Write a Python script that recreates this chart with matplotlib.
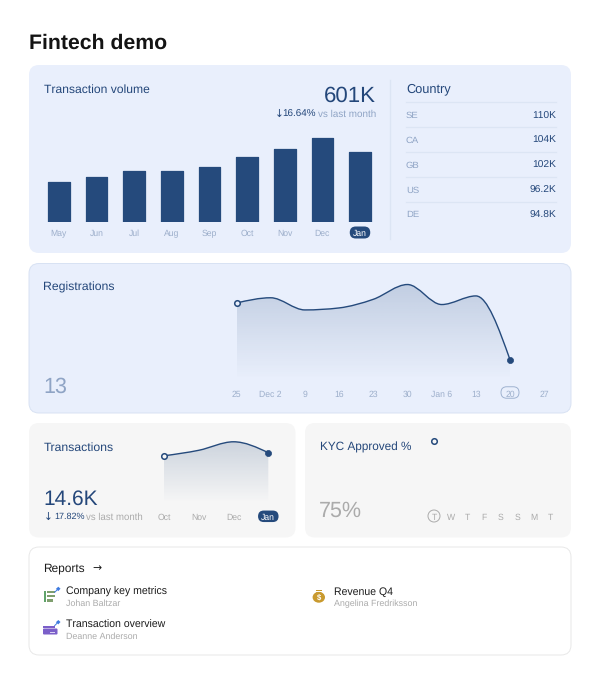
import numpy as np
import matplotlib
matplotlib.use("Agg")
import matplotlib.pyplot as plt
from matplotlib.patches import FancyBboxPatch, Circle, Ellipse, Polygon, Rectangle, PathPatch
from matplotlib.path import Path

plt.rcParams['font.family'] = ['Liberation Sans', 'DejaVu Sans']
plt.rcParams['text.hinting'] = 'no_hinting'
plt.rcParams['text.kerning_factor'] = 6

# ---------- data ----------
months = ['May', 'Jun', 'Jul', 'Aug', 'Sep', 'Oct', 'Nov', 'Dec', 'Jan']
volume = [343, 386, 438, 438, 472, 558, 627, 721, 601]
countries = ['SE', 'CA', 'GB', 'US', 'DE']
country_values = ['110K', '104K', '102K', '96.2K', '94.8K']
reg_labels = ['25', 'Dec 2', '9', '16', '23', '30', 'Jan 6', '13', '20', '27']
registrations = [50, 53.4, 45.5, 46.8, 52.4, 62, 49, 54.6, 13]
tx_labels = ['Oct', 'Nov', 'Dec', 'Jan']
transactions = [13.7, 15.3, 17.77, 14.6]
kyc_labels = ['T', 'W', 'T', 'F', 'S', 'S', 'M', 'T']
kyc_values = [75]

W, H = 600, 674
NAVY = '#254A7C'
TXT = '#24477A'
BLUE_MUTED = '#8FA4C5'
BLUE_TICK = '#9DAFCB'
GREY = '#ABABAB'
CARD_BLUE = '#E9EFFC'
CARD_GREY = '#F6F6F6'

fig = plt.figure(figsize=(W / 100, H / 100), dpi=100, facecolor='white')
bg = fig.add_axes([0, 0, 1, 1])
bg.set_xlim(0, W)
bg.set_ylim(H, 0)
bg.axis('off')


def px_axes(x0, y0, x1, y1):
    ax = fig.add_axes([x0 / W, 1 - y1 / H, (x1 - x0) / W, (y1 - y0) / H])
    ax.patch.set_alpha(0)
    for s in ax.spines.values():
        s.set_visible(False)
    ax.set_yticks([])
    return ax


def card(x0, y0, x1, y1, fc, ec='none', r=10, lw=0.7):
    bg.add_patch(FancyBboxPatch((x0 + r, y0 + r), x1 - x0 - 2 * r, y1 - y0 - 2 * r,
                                boxstyle=f'round,pad={r},rounding_size={r}',
                                fc=fc, ec=ec, lw=lw))


def pill(cx, cy, w, h, fc, ec='none', lw=0.7):
    r = h / 2
    bg.add_patch(FancyBboxPatch((cx - w / 2 + r, cy - h / 2 + r), w - 2 * r, h - 2 * r,
                                boxstyle=f'round,pad={r},rounding_size={r}',
                                fc=fc, ec=ec, lw=lw))


def t(x, y, s, size, color, ha='left', center=True, weight='normal', family=None):
    # y is the visual centre of the capitals unless center is False (then it is the baseline)
    yy = y + 0.5 * size if center else y
    kw = {'family': family} if family else {}
    bg.text(x, yy, s, fontsize=size, color=color, ha=ha, va='baseline', fontweight=weight, **kw)


def monotone_path(xs, ys):
    xs = np.asarray(xs, float)
    ys = np.asarray(ys, float)
    h = np.diff(xs)
    d = np.diff(ys) / h
    m = np.zeros(len(xs))
    for i in range(1, len(xs) - 1):
        if d[i - 1] * d[i] > 0:
            m[i] = (np.sign(d[i - 1]) + np.sign(d[i])) * min(
                abs(d[i - 1]), abs(d[i]), 0.5 * abs((d[i - 1] * h[i] + d[i] * h[i - 1]) / (h[i - 1] + h[i])))
    m[0] = (3 * d[0] - m[1]) / 2
    m[-1] = (3 * d[-1] - m[-2]) / 2
    verts = [(xs[0], ys[0])]
    codes = [Path.MOVETO]
    for i in range(len(h)):
        verts += [(xs[i] + h[i] / 3, ys[i] + m[i] * h[i] / 3),
                  (xs[i + 1] - h[i] / 3, ys[i + 1] - m[i + 1] * h[i] / 3),
                  (xs[i + 1], ys[i + 1])]
        codes += [Path.CURVE4] * 3
    return verts, codes


def area_line(ax, values, top_alpha, face):
    xs = np.arange(len(values))
    verts, codes = monotone_path(xs, values)
    ax.add_patch(PathPatch(Path(verts, codes), fc='none', ec=NAVY, lw=1.0, zorder=3, clip_on=False))
    fill = Path(verts + [(xs[-1], 0), (xs[0], 0), (xs[0], values[0])],
                codes + [Path.LINETO, Path.LINETO, Path.CLOSEPOLY])
    rgba = np.zeros((64, 2, 4))
    rgba[..., :3] = matplotlib.colors.to_rgb(NAVY)
    rgba[..., 3] = np.linspace(top_alpha, 0, 64)[:, None]
    xl, yl = ax.get_xlim(), ax.get_ylim()
    im = ax.imshow(rgba, extent=[xs[0], xs[-1], 0, max(values)], aspect='auto', zorder=1)
    im.set_clip_path(PathPatch(fill, transform=ax.transData))
    ax.set_xlim(xl)
    ax.set_ylim(yl)
    ax.plot(xs[0], values[0], 'o', ms=4, mfc=face, mec=NAVY, mew=1.1, zorder=4, clip_on=False)
    ax.plot(xs[-1], values[-1], 'o', ms=4.4, mfc=NAVY, mec=NAVY, mew=0.5, zorder=4, clip_on=False)


def style_ticks(ax, labels, size, color, pad):
    ax.set_xticks(range(len(labels)))
    ax.set_xticklabels(labels)
    ax.tick_params(axis='x', length=0, labelsize=size, labelcolor=color, pad=pad)


t(29, 48.5, 'Fintech demo', 15.3, '#141414', center=False, weight='bold')

# ---------- transaction volume ----------
card(29, 65, 571, 253, CARD_BLUE)
t(43.5, 89, 'Transaction volume', 8.7, TXT)
t(376, 101.7, '601K', 16, TXT, ha='right', center=False)
t(376, 113.5, 'vs last month', 7.1, BLUE_MUTED, ha='right')
t(316, 113.5, '16.64%', 7.1, TXT, ha='right')
t(274.5, 113.5, '↓', 7.6, TXT, family='DejaVu Sans')

pill(360, 232.5, 20.5, 12, NAVY)
step = 37.65
ax_bar = px_axes(40, 130, 379, 222.3)
ax_bar.set_xlim((40 - 58.8) / step, (379 - 58.8) / step)
ax_bar.set_ylim(0, 721 * 92.3 / 84)
ax_bar.bar(range(len(months)), volume, width=0.575, color=NAVY, edgecolor=NAVY,
           lw=0.9, joinstyle='round')
style_ticks(ax_bar, months, 6.2, BLUE_TICK, 5.2)
ax_bar.get_xticklabels()[-1].set_color('white')

# ---------- country table ----------
bg.plot([390.3, 390.3], [80, 239], color='#DCE5F4', lw=1)
t(406, 88, 'Country', 9.2, TXT)
for i, (c, v) in enumerate(zip(countries, country_values)):
    yy = 114.8 + i * 24.8
    bg.plot([406, 556], [yy - 12.5, yy - 12.5], color='#DCE5F4', lw=0.9)
    t(406, yy, c, 6.8, BLUE_MUTED)
    t(556, yy, v, 7.4, TXT, ha='right')

# ---------- registrations ----------
card(29, 263.5, 571, 413, CARD_BLUE, ec='#D8E2F3')
t(43.5, 286, 'Registrations', 8.8, TXT)
t(43.5, 392.7, '13', 15.5, BLUE_MUTED, center=False)
pill(510, 392.5, 18, 11.5, CARD_BLUE, ec='#9FB2D0')
rstep = 34.2
ax_reg = px_axes(225, 280, 560, 380)
ax_reg.set_xlim((225 - 236.5) / rstep, (560 - 236.5) / rstep)
ax_reg.set_ylim(0, 100 / 1.54)
area_line(ax_reg, registrations, 0.2, CARD_BLUE)
style_ticks(ax_reg, reg_labels, 6.2, BLUE_TICK, 7.3)

# ---------- transactions ----------
card(29, 423, 295.5, 537.5, CARD_GREY)
t(43.5, 446, 'Transactions', 8.8, TXT)
t(43.5, 505, '14.6K', 15, TXT, center=False)
t(43.5, 516, '↓', 7.6, TXT, family='DejaVu Sans')
t(54, 516, '17.82%', 6.5, TXT)
t(143, 516, 'vs last month', 6.9, GREY, ha='right')
pill(268.3, 516.3, 20.5, 11.5, NAVY)
tstep = (268.3 - 164) / 3
ax_tx = px_axes(155, 435, 280, 503)
ax_tx.set_xlim((155 - 164) / tstep, (280 - 164) / tstep)
ax_tx.set_ylim(0, 14.6 * 68 / 50.3)
area_line(ax_tx, transactions, 0.2, CARD_GREY)
style_ticks(ax_tx, tx_labels, 6.2, GREY, 7.8)
ax_tx.get_xticklabels()[-1].set_color('white')

# ---------- KYC ----------
card(305, 423, 571, 537.5, CARD_GREY)
t(319.5, 446, 'KYC Approved %', 8.5, TXT)
t(319, 516.7, '75%', 15.5, GREY, center=False)
bg.add_patch(Circle((434, 516), 6, fc='none', ec=GREY, lw=0.7))
kstep = (550.3 - 434) / 7
ax_k = px_axes(425, 435, 560, 505)
ax_k.set_xlim((425 - 434) / kstep, (560 - 434) / kstep)
ax_k.set_ylim(0, 75 * 70 / 64.3)
ax_k.plot(range(len(kyc_values)), kyc_values, 'o', ms=4, mfc=CARD_GREY, mec=NAVY, mew=1.1, clip_on=False)
style_ticks(ax_k, kyc_labels, 6.2, GREY, 6.2)

# ---------- reports ----------
card(29, 547, 571, 655, 'white', ec='#E8E8E8')
t(43, 567, 'Reports', 8.6, '#1C1C1C')
t(92, 567, '→', 7.8, '#1C1C1C', family='DejaVu Sans')
t(65.5, 591, 'Company key metrics', 7.6, '#1C1C1C')
t(65.5, 603, 'Johan Baltzar', 6.4, GREY)
t(65.5, 624, 'Transaction overview', 7.6, '#1C1C1C')
t(65.5, 636, 'Deanne Anderson', 6.4, GREY)
t(333.7, 591, 'Revenue Q4', 7.6, '#1C1C1C')
t(333.7, 603, 'Angelina Fredriksson', 6.4, GREY)


def pin(x, y):
    bg.add_patch(Polygon([(x - 1.8, y - 0.6), (x + 0.6, y - 2.8), (x + 2.8, y - 0.8), (x + 0.6, y + 1.6)],
                         fc='#3F7BE0', ec='none'))
    bg.plot([x - 0.8, x - 3], [y + 0.6, y + 2.8], color='#3F7BE0', lw=0.7)


GREEN = '#7F9F6E'
bg.add_patch(Rectangle((44, 590.7), 1.8, 11, fc='#5FA36A', ec='none'))
for yy, xe in [(590.7, 55), (594.8, 55), (599, 52.5)]:
    bg.add_patch(Rectangle((47.3, yy), xe - 47.3, 2.6, fc=GREEN, ec='none'))
pin(57.7, 589.5)

PURPLE = '#7B5FC9'
bg.add_patch(Rectangle((43, 625.5), 11.5, 2, fc=PURPLE, ec='none'))
bg.add_patch(FancyBboxPatch((43.5, 629), 13.5, 5, boxstyle='round,pad=0.5,rounding_size=1', fc=PURPLE, ec='none'))
bg.add_patch(Rectangle((50, 631.5), 4.5, 1, fc='#D9D0F2', ec='none'))
pin(57.7, 622.8)

GOLD = '#C99A2E'
bg.add_patch(Ellipse((318.8, 597.3), 12.4, 10.8, fc=GOLD, ec='none'))
bg.add_patch(Rectangle((315.5, 589.5), 6.5, 1.7, fc=GOLD, ec='none'))
bg.add_patch(Polygon([(316.5, 592), (321, 592), (322, 593.5), (315.5, 593.5)], fc=GOLD, ec='none'))
t(318.8, 597.4, '$', 5.5, 'white', ha='center', weight='bold')

fig.savefig('out.png', dpi=100, facecolor='white')
